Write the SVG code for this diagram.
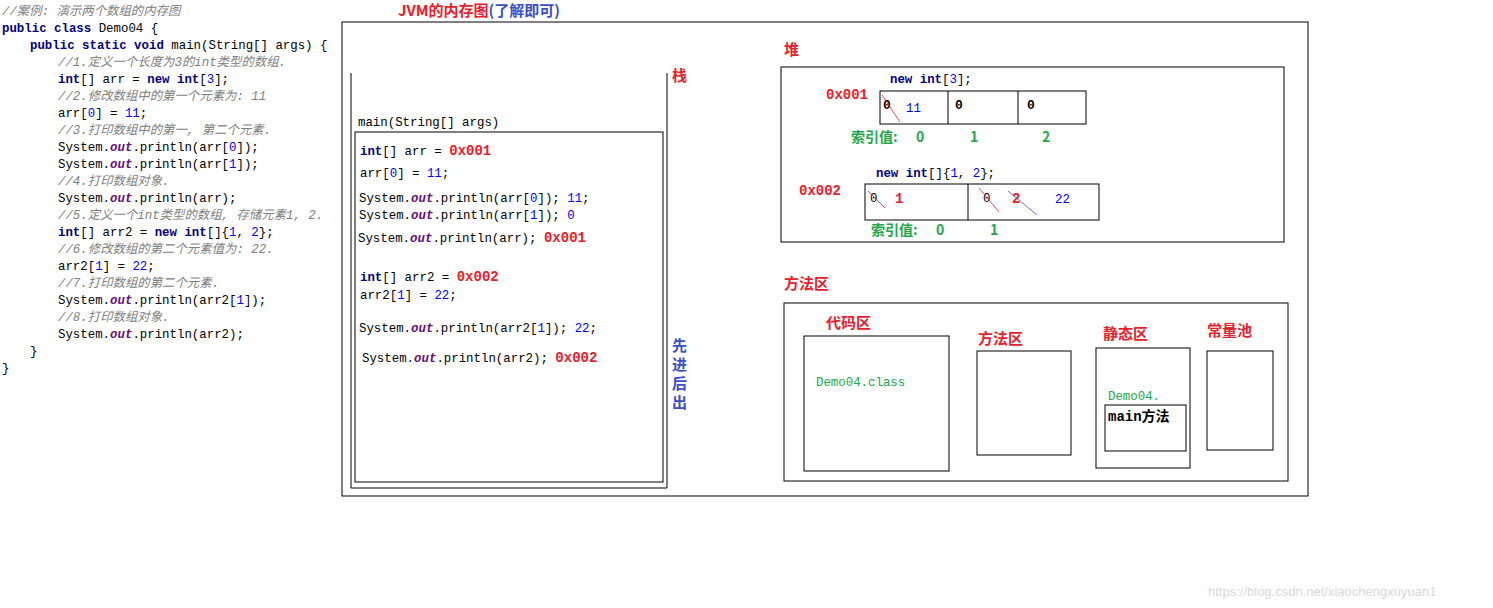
<svg xmlns="http://www.w3.org/2000/svg" width="1493" height="608" viewBox="0 0 1493 608">
<style>
text{font-family:"Liberation Mono","Noto Sans CJK SC",monospace;font-size:12.4px;fill:#000}
.c{fill:#808080;font-style:italic}
.k{fill:#000080;font-weight:bold}
.n{fill:#0000ff}
.o{fill:#660e7a;font-weight:bold;font-style:italic}
.r{fill:#e8202a;font-weight:bold;font-size:14px}
.rz{fill:#e8202a;font-weight:bold;font-size:15px;font-family:"Noto Sans CJK SC",sans-serif}
.g{fill:#22a84a;font-weight:bold;font-size:14px;font-family:"Noto Sans CJK SC",sans-serif}
.gt{fill:#22a84a}
.b{fill:#3a4fc8;font-weight:bold;font-size:15px;font-family:"Noto Sans CJK SC",sans-serif}
.box{fill:none;stroke:#000;stroke-width:1}
</style>
<rect width="1493" height="608" fill="#fff"/>
<g id="code">
<text x="2" y="15" class="c">//案例: 演示两个数组的内存图</text>
<text x="2" y="32"><tspan class="k">public class</tspan> Demo04 {</text>
<text x="30" y="49"><tspan class="k">public static void</tspan> main(String[] args) {</text>
<text x="58" y="66" class="c">//1.定义一个长度为3的int类型的数组.</text>
<text x="58" y="83"><tspan class="k">int</tspan>[] arr = <tspan class="k">new int</tspan>[<tspan class="n">3</tspan>];</text>
<text x="58" y="100" class="c">//2.修改数组中的第一个元素为: 11</text>
<text x="58" y="117">arr[<tspan class="n">0</tspan>] = <tspan class="n">11</tspan>;</text>
<text x="58" y="134" class="c">//3.打印数组中的第一, 第二个元素.</text>
<text x="58" y="151">System.<tspan class="o">out</tspan>.println(arr[<tspan class="n">0</tspan>]);</text>
<text x="58" y="168">System.<tspan class="o">out</tspan>.println(arr[<tspan class="n">1</tspan>]);</text>
<text x="58" y="185" class="c">//4.打印数组对象.</text>
<text x="58" y="202">System.<tspan class="o">out</tspan>.println(arr);</text>
<text x="58" y="219" class="c">//5.定义一个int类型的数组, 存储元素1, 2.</text>
<text x="58" y="236"><tspan class="k">int</tspan>[] arr2 = <tspan class="k">new int</tspan>[]{<tspan class="n">1</tspan>, <tspan class="n">2</tspan>};</text>
<text x="58" y="253" class="c">//6.修改数组的第二个元素值为: 22.</text>
<text x="58" y="270">arr2[<tspan class="n">1</tspan>] = <tspan class="n">22</tspan>;</text>
<text x="58" y="287" class="c">//7.打印数组的第二个元素.</text>
<text x="58" y="304">System.<tspan class="o">out</tspan>.println(arr2[<tspan class="n">1</tspan>]);</text>
<text x="58" y="321" class="c">//8.打印数组对象.</text>
<text x="58" y="338">System.<tspan class="o">out</tspan>.println(arr2);</text>
<text x="30" y="355">}</text>
<text x="2" y="372">}</text>
</g>
<g id="jvm">
<rect x="342" y="22" width="966" height="474" class="box"/>
<text x="398" y="16" class="rz">JVM的内存图<tspan fill="#3a4fc8">(了解即可)</tspan></text>
</g>
<g id="stack">
<path d="M351 73V488H667V73" class="box"/>
<rect x="355" y="132" width="308" height="350" class="box"/>
<text x="672" y="81" class="rz">栈</text>
<text x="672" y="351" class="b">先</text>
<text x="672" y="370" class="b">进</text>
<text x="672" y="389" class="b">后</text>
<text x="672" y="408" class="b">出</text>
<text x="358" y="126">main(String[] args)</text>
<text x="360" y="155"><tspan class="k">int</tspan>[] arr = <tspan class="r">0x001</tspan></text>
<text x="360" y="177">arr[<tspan class="n">0</tspan>] = <tspan class="n">11</tspan>;</text>
<text x="359" y="202">System.<tspan class="o">out</tspan>.println(arr[<tspan class="n">0</tspan>]); <tspan class="n">11</tspan>;</text>
<text x="359" y="219">System.<tspan class="o">out</tspan>.println(arr[<tspan class="n">1</tspan>]);  <tspan class="n">0</tspan></text>
<text x="358" y="242">System.<tspan class="o">out</tspan>.println(arr); <tspan class="r">0x001</tspan></text>
<text x="360" y="281"><tspan class="k">int</tspan>[] arr2 = <tspan class="r">0x002</tspan></text>
<text x="360" y="299">arr2[<tspan class="n">1</tspan>] = <tspan class="n">22</tspan>;</text>
<text x="359" y="332">System.<tspan class="o">out</tspan>.println(arr2[<tspan class="n">1</tspan>]);  <tspan class="n">22</tspan>;</text>
<text x="362" y="362">System.<tspan class="o">out</tspan>.println(arr2); <tspan class="r">0x002</tspan></text>
</g>
<g id="heap">
<text x="784" y="55" class="rz">堆</text>
<rect x="781" y="67" width="503" height="175" class="box"/>
<text x="890" y="83"><tspan class="k">new int</tspan>[<tspan class="n">3</tspan>];</text>
<text x="826" y="99" class="r">0x001</text>
<rect x="880" y="91" width="206" height="33" class="box"/>
<path d="M948 91V124M1018 91V124" class="box"/>
<text x="883" y="109" style="font-weight:bold;font-size:13px">0</text>
<line x1="882" y1="95" x2="900" y2="122" stroke="#e8202a" stroke-width="0.8"/>
<text x="906" y="112" class="n">11</text>
<text x="955" y="109" style="font-weight:bold;font-size:13px">0</text>
<text x="1027" y="109" style="font-weight:bold;font-size:13px">0</text>
<text x="851" y="142" class="g">索引值: <tspan x="916">0</tspan><tspan x="970">1</tspan><tspan x="1042">2</tspan></text>
<text x="876" y="177"><tspan class="k">new int</tspan>[]{<tspan class="n">1</tspan>, <tspan class="n">2</tspan>};</text>
<text x="799" y="195" class="r">0x002</text>
<rect x="865" y="184" width="234" height="36" class="box"/>
<path d="M968 184V220" class="box"/>
<text x="870" y="202">0</text>
<line x1="868" y1="191" x2="885" y2="208" stroke="#e8202a" stroke-width="0.8"/>
<text x="895" y="203" class="r">1</text>
<text x="983" y="202">0</text>
<line x1="979" y1="188" x2="999" y2="212" stroke="#e8202a" stroke-width="0.8"/>
<text x="1012" y="203" class="r">2</text>
<line x1="1008" y1="191" x2="1037" y2="215" stroke="#3a4fc8" stroke-width="0.8"/>
<text x="1055" y="203" class="n">22</text>
<text x="871" y="235" class="g">索引值: <tspan x="936">0</tspan><tspan x="990">1</tspan></text>
</g>
<g id="method-area">
<text x="784" y="289" class="rz">方法区</text>
<rect x="784" y="303" width="504" height="178" class="box"/>
<text x="826" y="328" class="rz">代码区</text>
<rect x="804" y="336" width="145" height="135" class="box"/>
<text x="816" y="386" class="gt">Demo04.class</text>
<text x="978" y="344" class="rz">方法区</text>
<rect x="977" y="351" width="94" height="104" class="box"/>
<text x="1103" y="339" class="rz">静态区</text>
<rect x="1096" y="348" width="94" height="120" class="box"/>
<text x="1108" y="400" class="gt">Demo04.</text>
<rect x="1105" y="405" width="81" height="46" class="box"/>
<text x="1108" y="421" style="font-weight:bold;font-size:14px">main方法</text>
<text x="1207" y="336" class="rz">常量池</text>
<rect x="1207" y="351" width="66" height="99" class="box"/>
</g>
<g id="connectors"></g>
<text x="1208" y="596" style="font-family:'Liberation Sans',sans-serif;font-size:13px;fill:#d8d8d8">https://blog.csdn.net/xiaochengxuyuan1</text>
</svg>
